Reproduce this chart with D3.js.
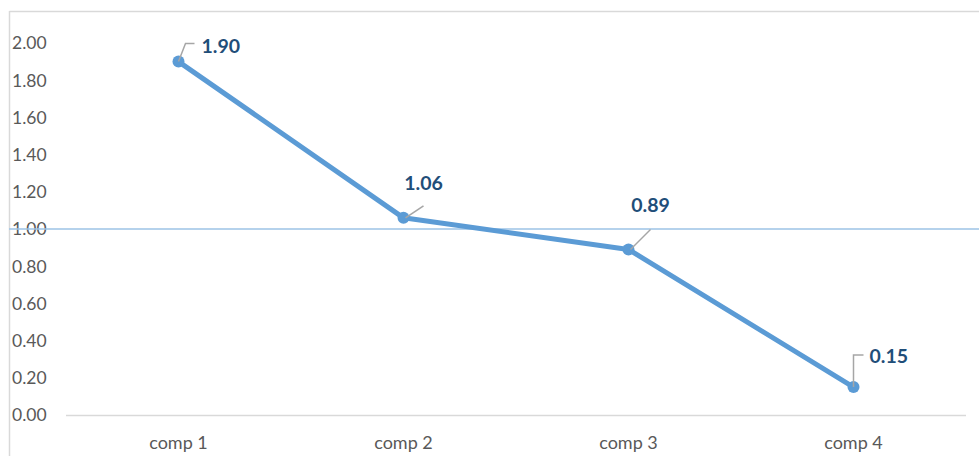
<!DOCTYPE html>
<html>
<head>
<meta charset="utf-8">
<script src="https://cdn.jsdelivr.net/npm/d3@7/dist/d3.min.js"></script>
<style>
  html, body { margin: 0; padding: 0; background: #fff; }
  svg { display: block; font-family: Lato, "Open Sans", sans-serif; }
</style>
</head>
<body>
<svg id="chart" width="979" height="456"></svg>
<script>
// Data
const categories = ["comp 1", "comp 2", "comp 3", "comp 4"];
const values = [1.90, 1.06, 0.89, 0.15];
const yTicks = [0, 0.2, 0.4, 0.6, 0.8, 1.0, 1.2, 1.4, 1.6, 1.8, 2.0];
const referenceValue = 1.0;

const svg = d3.select("#chart");
const W = 979, H = 456;

// Chart frame (top and left edges visible)
svg.append("line").attr("x1", 9.5).attr("x2", W).attr("y1", 11.5).attr("y2", 11.5)
  .attr("stroke", "#d9d9d9").attr("stroke-width", 1.5);
svg.append("line").attr("x1", 9.5).attr("x2", 9.5).attr("y1", 11).attr("y2", H)
  .attr("stroke", "#d9d9d9").attr("stroke-width", 1.5);

const x = d3.scaleBand().domain(categories).range([66, 966]);
const y = d3.scaleLinear().domain([0, 2]).range([415, 43]);
const cx = d => x(d) + x.bandwidth() / 2;

// Y tick labels
svg.append("g").selectAll("text").data(yTicks).join("text")
  .attr("x", 12).attr("y", d => y(d)).attr("dy", "0.36em")
  .attr("font-size", 17.5).attr("fill", "#595959")
  .text(d => d3.format(".2f")(d));

// Category axis baseline
svg.append("line").attr("x1", 66).attr("x2", 966)
  .attr("y1", y(0) + 0.5).attr("y2", y(0) + 0.5)
  .attr("stroke", "#d9d9d9").attr("stroke-width", 1.5);

// Category labels
svg.append("g").selectAll("text").data(categories).join("text")
  .attr("x", d => cx(d)).attr("y", 443).attr("dy", "0.36em")
  .attr("text-anchor", "middle").attr("font-size", 18).attr("fill", "#595959")
  .text(d => d);

// Reference line at 1.00
svg.append("line").attr("x1", 9).attr("x2", W)
  .attr("y1", y(referenceValue)).attr("y2", y(referenceValue))
  .attr("stroke", "#9dc3e6").attr("stroke-width", 1.5);

// Series line
const pts = categories.map((c, i) => ({ c, v: values[i] }));
svg.append("path").datum(pts)
  .attr("fill", "none").attr("stroke", "#5b9bd5").attr("stroke-width", 5)
  .attr("stroke-linejoin", "round")
  .attr("d", d3.line().x(d => cx(d.c)).y(d => y(d.v)));

svg.append("g").selectAll("circle").data(pts).join("circle")
  .attr("cx", d => cx(d.c)).attr("cy", d => y(d.v)).attr("r", 6)
  .attr("fill", "#5b9bd5");

// Data labels with leader lines (offsets relative to each point)
const labelStyle = [
  { leader: [[0, 0], [7, -18], [16, -18]], tx: 23, ty: -9, anchor: "start" },
  { leader: [[2, 0], [20, -12]], tx: 20, ty: -28, anchor: "middle" },
  { leader: [[2, 0], [22, -20]], tx: 22, ty: -37, anchor: "middle" },
  { leader: [[0, 0], [0, -32], [10, -32]], tx: 16, ty: -24, anchor: "start" }
];

const lbl = svg.append("g");
pts.forEach((d, i) => {
  const px = cx(d.c), py = y(d.v), s = labelStyle[i];
  lbl.append("path")
    .attr("d", d3.line()(s.leader.map(p => [px + p[0], py + p[1]])))
    .attr("fill", "none").attr("stroke", "#a6a6a6").attr("stroke-width", 1.5);
  lbl.append("text")
    .attr("x", px + s.tx).attr("y", py + s.ty)
    .attr("text-anchor", s.anchor)
    .attr("font-size", 19.5).attr("font-weight", "bold").attr("fill", "#1f4e79")
    .text(d3.format(".2f")(d.v));
});
</script>
</body>
</html>
